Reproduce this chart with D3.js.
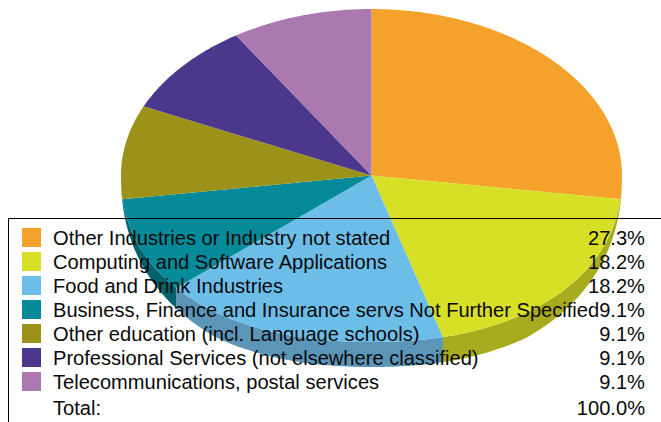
<!DOCTYPE html>
<html>
<head>
<meta charset="utf-8">
<script src="https://cdn.jsdelivr.net/npm/d3@7"></script>
<style>
html, body { margin: 0; padding: 0; background: #fff; overflow: hidden; }
svg { display: block; }
text { font-family: "Liberation Sans", Arial, sans-serif; font-size: 20.1px; fill: #0a0a0a; }
</style>
</head>
<body>
<script>
// chart data
var categories = [
  "Other Industries or Industry not stated",
  "Computing and Software Applications",
  "Food and Drink Industries",
  "Business, Finance and Insurance servs Not Further Specified",
  "Other education (incl. Language schools)",
  "Professional Services (not elsewhere classified)",
  "Telecommunications, postal services"
];
var values = [27.3, 18.2, 18.2, 9.1, 9.1, 9.1, 9.1];
var colors = ["#F5A22D", "#D7DF26", "#6DBDE9", "#058A99", "#9C9119", "#4B378C", "#AB79B0"];
var sideColors = ["#BF8430", "#A9AB1E", "#5B95B8", "#04626E", "#6E6814", "#35275F", "#7A5680"];
var totalLabel = "Total:";
var totalValue = "100.0%";

var width = 661,
    height = 422;

var cx = 371.5,
    cy = 175.5,
    rx = 250.5,
    ry = 166.5,
    depth = 25,
    bulge = 2.2;   // the front half of the pie is a bit fuller than an ellipse

var svg = d3.select("body").append("svg")
    .attr("width", width)
    .attr("height", height);

var slices = d3.pie().sort(null)(values);
var line = d3.line();

// point on the rim of the top face for a pie angle
function rim(a) {
  var s = Math.sin(a), c = Math.cos(a);
  var t = c < 0 ? Math.pow(Math.pow(Math.abs(s), bulge) + Math.pow(Math.abs(c), bulge), -1 / bulge) : 1;
  return [cx + rx * s * t, cy - ry * c * t];
}

function angles(a0, a1) {
  return d3.range(a0, a1, 0.01).concat([a1]);
}

// side wall: only the front half (pie angles 90 to 270 deg) shows, and it gets thin toward the ends
function wall(d) {
  var a0 = Math.max(d.startAngle, Math.PI / 2),
      a1 = Math.min(d.endAngle, Math.PI * 1.5);
  if (a1 <= a0) return null;
  var as = angles(a0, a1);
  var top = as.map(rim);
  var bottom = as.map(function(a) {
    var p = rim(a);
    return [p[0], p[1] + depth * Math.min(1, Math.abs(Math.cos(a)) / 0.8)];
  }).reverse();
  return line(top.concat(bottom)) + "Z";
}

function face(d) {
  return line([[cx, cy]].concat(angles(d.startAngle, d.endAngle).map(rim))) + "Z";
}

svg.append("g").selectAll("path")
    .data(slices)
    .enter().append("path")
    .attr("d", wall)
    .attr("fill", function(d, i) { return sideColors[i]; });

svg.append("g").selectAll("path")
    .data(slices)
    .enter().append("path")
    .attr("d", face)
    .attr("fill", function(d, i) { return colors[i]; });

// legend box runs off the page to the right and bottom
svg.append("rect")
    .attr("x", 8.5)
    .attr("y", 218.5)
    .attr("width", 700)
    .attr("height", 300)
    .attr("fill", "none")
    .attr("stroke", "#000")
    .attr("stroke-width", 1);

var rowY = d3.scaleLinear().domain([0, 1]).range([245, 269]);

var rows = svg.append("g").selectAll("g")
    .data(categories)
    .enter().append("g");

rows.append("rect")
    .attr("x", 22)
    .attr("y", function(d, i) { return rowY(i) - 17; })
    .attr("width", 19)
    .attr("height", 19)
    .attr("fill", function(d, i) { return colors[i]; });

rows.append("text")
    .attr("x", 53)
    .attr("y", function(d, i) { return rowY(i); })
    .text(function(d) { return d; });

rows.append("text")
    .attr("x", 645)
    .attr("y", function(d, i) { return rowY(i); })
    .attr("text-anchor", "end")
    .text(function(d, i) { return values[i].toFixed(1) + "%"; });

svg.append("text")
    .attr("x", 53)
    .attr("y", 415)
    .text(totalLabel);

svg.append("text")
    .attr("x", 645)
    .attr("y", 415)
    .attr("text-anchor", "end")
    .text(totalValue);
</script>
</body>
</html>
